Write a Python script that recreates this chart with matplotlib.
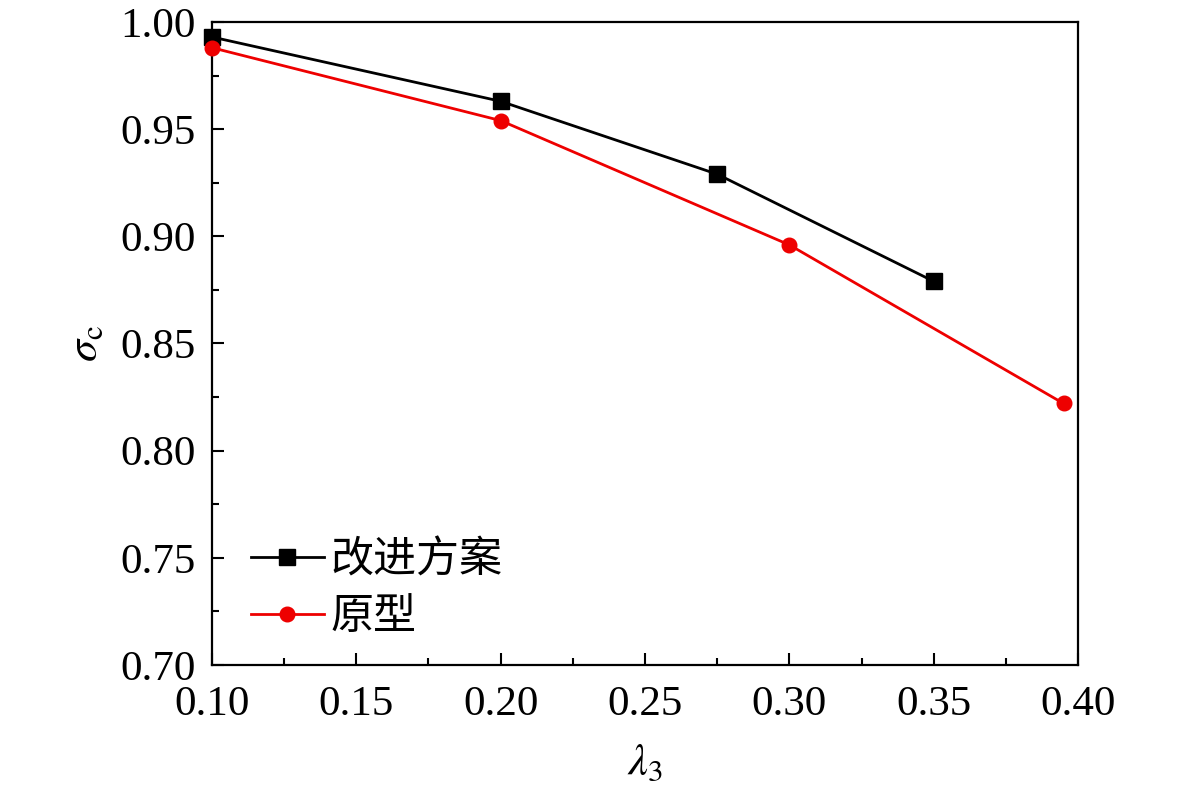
import matplotlib
matplotlib.use('Agg')
import matplotlib.pyplot as plt
from matplotlib.ticker import MultipleLocator

plt.rcParams['font.family'] = ['Liberation Serif', 'Noto Sans CJK SC', 'DejaVu Sans']
plt.rcParams['mathtext.fontset'] = 'stix'

# Data
lam_new = [0.10, 0.20, 0.275, 0.35]
sigma_new = [0.993, 0.963, 0.929, 0.879]
lam_orig = [0.10, 0.20, 0.30, 0.395]
sigma_orig = [0.988, 0.954, 0.896, 0.822]
labels = ['改进方案', '原型']

fig, ax = plt.subplots(figsize=(11.81, 7.94), dpi=100)
fig.subplots_adjust(left=0.1795, right=0.9128, top=0.9723, bottom=0.1625)

ax.plot(lam_new, sigma_new, color='black', lw=2.0, marker='s', ms=11.5,
        label=labels[0], clip_on=False, zorder=3)
ax.plot(lam_orig, sigma_orig, color='#ee0000', lw=2.0, marker='o', ms=10.5,
        label=labels[1], clip_on=False, zorder=3)

ax.set_xlim(0.10, 0.40)
ax.set_ylim(0.70, 1.00)
ax.xaxis.set_major_locator(MultipleLocator(0.05))
ax.xaxis.set_minor_locator(MultipleLocator(0.025))
ax.yaxis.set_major_locator(MultipleLocator(0.05))
ax.yaxis.set_minor_locator(MultipleLocator(0.025))
ax.xaxis.set_major_formatter(plt.FuncFormatter(lambda v, p: f'{v:.2f}'))
ax.yaxis.set_major_formatter(plt.FuncFormatter(lambda v, p: f'{v:.2f}'))

ax.tick_params(which='both', direction='in', width=1.5, labelsize=31, top=False, right=False)
ax.tick_params(which='major', length=8.5)
ax.tick_params(which='minor', length=5)
ax.tick_params(axis='x', which='major', pad=15)
ax.tick_params(axis='y', which='major', pad=12)
for s in ax.spines.values():
    s.set_linewidth(1.6)

ax.set_xlabel(r'$\lambda_3$', fontsize=32, labelpad=14)
ax.set_ylabel(r'$\sigma_{\mathrm{c}}$', fontsize=32, labelpad=10)

leg = ax.legend(loc='lower left', frameon=False, prop={'family': ['Noto Sans CJK SC'], 'size': 31},
                handlelength=1.7, handletextpad=0.15, labelspacing=0.3,
                borderaxespad=0.0, bbox_to_anchor=(0.025, 0.013))

fig.savefig('out.png', dpi=100)
